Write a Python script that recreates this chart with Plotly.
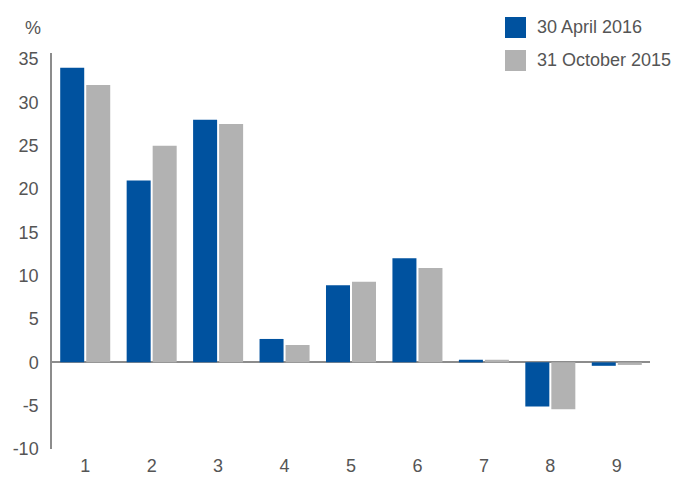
import plotly.graph_objects as go

categories = ["1", "2", "3", "4", "5", "6", "7", "8", "9"]
series_names = ["30 April 2016", "31 October 2015"]
apr_2016 = [34.0, 21.0, 28.0, 2.7, 8.9, 12.0, 0.3, -5.1, -0.4]
oct_2015 = [32.0, 25.0, 27.5, 2.0, 9.3, 10.9, 0.3, -5.4, -0.3]
y_ticks = [-10, -5, 0, 5, 10, 15, 20, 25, 30, 35]
y_tick_labels = ["-10", "-5", "0", "5", "10", "15", "20", "25", "30", "35"]

BLUE = "#00529F"
GRAY = "#B2B2B2"
TXT = "#555555"
FONT = "Liberation Sans, Arial, Helvetica, sans-serif"
FS = 18

fig = go.Figure()
fig.add_trace(go.Bar(x=categories, y=apr_2016, name=series_names[0],
                     marker=dict(color=BLUE, line=dict(width=0))))
fig.add_trace(go.Bar(x=categories, y=oct_2015, name=series_names[1],
                     marker=dict(color=GRAY, line=dict(width=0))))

W, H = 675, 479
L, R, T, B = 52, 25, 53, 30
pw, ph = W - L - R, H - T - B

def px(x):
    return (x - L) / pw

def py(y):
    return (H - B - y) / ph

shapes = []
annotations = []
for i, (name, col) in enumerate(zip(series_names, [BLUE, GRAY])):
    top = 17 + 33 * i
    shapes.append(dict(type="rect", xref="paper", yref="paper",
                       x0=px(505), x1=px(526), y0=py(top + 21), y1=py(top),
                       fillcolor=col, line=dict(width=0)))
    annotations.append(dict(xref="paper", yref="paper", x=px(535), y=py(top + 10.5),
                            text=name, showarrow=False, xanchor="left", yanchor="middle",
                            font=dict(family=FONT, size=FS, color=TXT)))
annotations.append(dict(xref="paper", yref="paper", x=px(33), y=py(28),
                        text="%", showarrow=False, xanchor="center", yanchor="middle",
                        font=dict(family=FONT, size=FS, color=TXT)))

fig.update_layout(
    width=W, height=H,
    margin=dict(l=L, r=R, t=T, b=B, pad=0),
    paper_bgcolor="white", plot_bgcolor="white",
    barmode="group", bargap=0.217, bargroupgap=0.077,
    showlegend=False,
    font=dict(family=FONT, size=FS, color=TXT),
    shapes=shapes, annotations=annotations,
    xaxis=dict(showgrid=False, showline=False, zeroline=False, ticks="",
               automargin=False,
               ticklabelstandoff=4, tickfont=dict(size=FS, color=TXT)),
    yaxis=dict(range=[-10, 35.7], tickvals=y_ticks, ticktext=y_tick_labels,
               showgrid=False, automargin=False,
               showline=True, linecolor="#8C8C8C", linewidth=1.5,
               zeroline=True, zerolinecolor="#8C8C8C", zerolinewidth=2,
               ticks="", ticklabelstandoff=8, tickfont=dict(size=FS, color=TXT)),
)

fig.write_html("out.html", config={"displayModeBar": False},
               post_script="document.body.style.margin='0';document.body.style.padding='0';")
